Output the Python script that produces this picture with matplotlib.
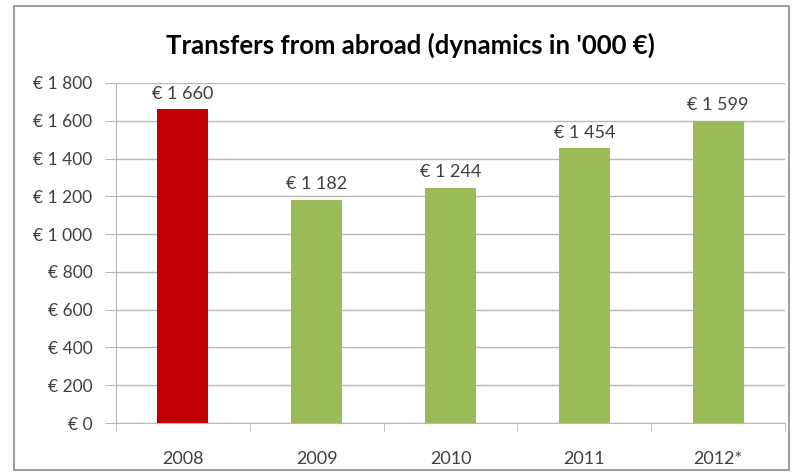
import matplotlib.pyplot as plt
from matplotlib.patches import Rectangle

years = ['2008', '2009', '2010', '2011', '2012*']
transfers = [1660, 1182, 1244, 1454, 1599]
bar_colors = ['#C00000', '#9BBB59', '#9BBB59', '#9BBB59', '#9BBB59']
y_ticks = list(range(0, 1801, 200))


def euro(v):
    # thousands separated by a space, euro sign in front
    return '€ ' + f'{v:,}'.replace(',', ' ')


plt.rcParams['font.family'] = ['Lato', 'DejaVu Sans']

fig = plt.figure(figsize=(7.92, 4.76), dpi=100)
ax = fig.add_axes([116 / 792, 1 - 423 / 476, (785 - 116) / 792, (423 - 83) / 476])

# outer chart frame
fig.patches.append(Rectangle((14 / 792, 6 / 476), (789 - 14) / 792, (470 - 6) / 476,
                             transform=fig.transFigure, fill=False,
                             edgecolor='#8c8c8c', linewidth=1.2))

x = range(len(years))
ax.bar(x, transfers, width=0.38, color=bar_colors, zorder=3)

for i, v in enumerate(transfers):
    ax.text(i, v + 40, euro(v), ha='center', va='bottom', fontsize=13, color='#404040')

ax.set_xlim(-0.5, len(years) - 0.5)
ax.set_ylim(0, 1800)
ax.set_yticks(y_ticks)
ax.set_yticklabels([euro(v) for v in y_ticks])
ax.set_xticks(list(x))
ax.set_xticklabels(years)
ax.set_xticks([i + 0.5 for i in range(-1, len(years))], minor=True)

ax.grid(axis='y', color='#b8b8b8', linewidth=1, zorder=0)
for side in ['top', 'right']:
    ax.spines[side].set_visible(False)
ax.spines['left'].set_color('#b8b8b8')
ax.spines['bottom'].set_color('#b8b8b8')

ax.tick_params(axis='y', length=8, color='#b8b8b8', labelsize=12.5, labelcolor='#404040', pad=9)
ax.tick_params(axis='x', which='major', length=0, labelsize=13, labelcolor='#404040', pad=20)
ax.tick_params(axis='x', which='minor', length=6, color='#b8b8b8')

fig.text(410 / 792, 1 - 45 / 476, "Transfers from abroad (dynamics in '000 €)",
         ha='center', va='center', fontsize=18.5, fontweight='bold', color='black')

plt.savefig('out.png', dpi=100)
